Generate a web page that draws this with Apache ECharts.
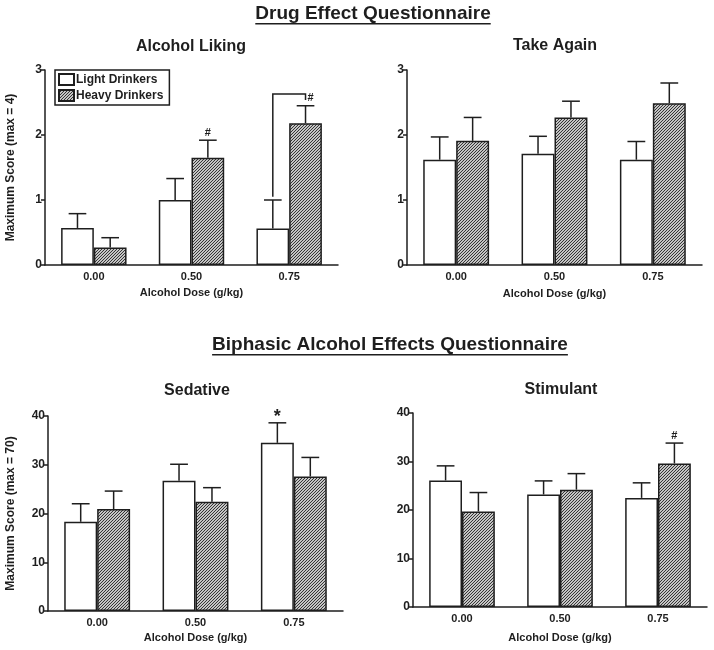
<!DOCTYPE html>
<html>
<head>
<meta charset="utf-8">
<script src="https://cdn.jsdelivr.net/npm/echarts@6/dist/echarts.min.js"></script>
<style>
html,body{margin:0;padding:0;background:#fff;}
#main{width:714px;height:650px;}
</style>
</head>
<body>
<div id="main"></div>
<script>
// ---------- DATA ----------
const categories = ['0.00', '0.50', '0.75'];
const groupNames = ['Light Drinkers', 'Heavy Drinkers'];

const panelTitles = ['Alcohol Liking', 'Take Again', 'Sedative', 'Stimulant'];
const sectionTitles = ['Drug Effect Questionnaire', 'Biphasic Alcohol Effects Questionnaire'];
const xAxisTitle = 'Alcohol Dose (g/kg)';
const yAxisTitles = ['Maximum Score (max = 4)', 'Maximum Score (max = 70)'];

// Alcohol Liking (max = 4)
const likingLight = [0.57, 1.00, 0.56];
const likingLightSem = [0.22, 0.33, 0.44];
const likingHeavy = [0.27, 1.65, 2.18];
const likingHeavySem = [0.15, 0.27, 0.27];

// Take Again
const againLight = [1.62, 1.71, 1.62];
const againLightSem = [0.35, 0.27, 0.28];
const againHeavy = [1.91, 2.27, 2.49];
const againHeavySem = [0.36, 0.25, 0.31];

// Sedative (max = 70)
const sedLight = [18.3, 26.7, 34.5];
const sedLightSem = [3.7, 3.4, 4.1];
const sedHeavy = [20.9, 22.4, 27.6];
const sedHeavySem = [3.7, 2.9, 3.9];

// Stimulant
const stimLight = [26.1, 23.2, 22.5];
const stimLightSem = [3.0, 2.8, 3.1];
const stimHeavy = [19.7, 24.2, 29.6];
const stimHeavySem = [3.9, 3.3, 4.2];

// significance markers above error bars: panel, category, group (0 light / 1 heavy), symbol
const sigPanel = [0, 2, 3];
const sigCategory = [1, 2, 2];
const sigGroup = [1, 0, 1];
const sigSymbol = ['#', '*', '#'];

// bracket in Alcohol Liking between light and heavy at 0.75
const bracketCategory = 2;
const bracketStart = 1.05;   // light side start value
const bracketTop = 2.63;     // horizontal level
const bracketEnd = 2.54;     // heavy side end value
const bracketSymbol = '#';

// ---------- STYLE ----------
const FONT = '"Liberation Sans", Arial, sans-serif';
const INK = '#1e1e1e';
const CAT_GAP = 0.33;

function makeHatch() {
  const s = 3;
  const c = document.createElement('canvas');
  c.width = s; c.height = s;
  const ctx = c.getContext('2d');
  ctx.fillStyle = '#ffffff';
  ctx.fillRect(0, 0, s, s);
  ctx.strokeStyle = '#2a2a2a';
  ctx.lineWidth = 1.05;
  ctx.beginPath();
  ctx.moveTo(-1, s + 1); ctx.lineTo(s + 1, -1);
  ctx.moveTo(-1, 1); ctx.lineTo(1, -1);
  ctx.moveTo(s - 1, s + 1); ctx.lineTo(s + 1, s - 1);
  ctx.stroke();
  return c;
}
const hatch = { image: makeHatch(), repeat: 'repeat' };

const panels = [
  { light: likingLight, lightSem: likingLightSem, heavy: likingHeavy, heavySem: likingHeavySem, max: 3, interval: 1,
    grid: { left: 45, top: 70, width: 293, height: 195 }, yName: yAxisTitles[0], yNameGap: 28, xNameGap: 22 },
  { light: againLight, lightSem: againLightSem, heavy: againHeavy, heavySem: againHeavySem, max: 3, interval: 1,
    grid: { left: 407, top: 70, width: 295, height: 195 }, yName: '', yNameGap: 0, xNameGap: 23 },
  { light: sedLight, lightSem: sedLightSem, heavy: sedHeavy, heavySem: sedHeavySem, max: 40, interval: 10,
    grid: { left: 48, top: 416, width: 295, height: 195 }, yName: yAxisTitles[1], yNameGap: 31, xNameGap: 21 },
  { light: stimLight, lightSem: stimLightSem, heavy: stimHeavy, heavySem: stimHeavySem, max: 40, interval: 10,
    grid: { left: 413, top: 413, width: 294, height: 194 }, yName: '', yNameGap: 0, xNameGap: 25 }
];

const subtitleCenters = [[191, 47], [555, 46], [197, 391], [561, 390]];
const sectionCenters = [[373, 14], [390, 345]];

function barHalfWidth(api) {
  const catW = api.size([1, 0])[0];
  return catW * (1 - CAT_GAP) / 2;
}

function errRender(sign) {
  return function (params, api) {
    const ci = api.value(0);
    const base = api.coord([ci, api.value(1)]);
    const hi = api.coord([ci, api.value(2)]);
    const bw = barHalfWidth(api);
    const x = base[0] + sign * bw / 2;
    const half = bw * 0.27;
    const st = { stroke: INK, lineWidth: 1.5 };
    return {
      type: 'group',
      children: [
        { type: 'line', shape: { x1: x, y1: base[1], x2: x, y2: hi[1] }, style: st },
        { type: 'line', shape: { x1: x - half, y1: hi[1], x2: x + half, y2: hi[1] }, style: st }
      ]
    };
  };
}

const grid = [], xAxis = [], yAxis = [], series = [];
panels.forEach((p, i) => {
  grid.push(Object.assign({ containLabel: false }, p.grid));
  xAxis.push({
    type: 'category', gridIndex: i, data: categories,
    name: xAxisTitle, nameLocation: 'middle', nameGap: p.xNameGap,
    nameTextStyle: { fontFamily: FONT, fontWeight: 'bold', fontSize: 11, color: INK },
    axisLine: { lineStyle: { color: INK, width: 1.5 } },
    axisTick: { show: false },
    axisLabel: { fontFamily: FONT, fontWeight: 'bold', fontSize: 11, color: INK, margin: 6 },
    splitLine: { show: false }
  });
  yAxis.push({
    type: 'value', gridIndex: i, min: 0, max: p.max, interval: p.interval,
    name: p.yName, nameLocation: 'middle', nameGap: p.yNameGap,
    nameTextStyle: { fontFamily: FONT, fontWeight: 'bold', fontSize: 12, color: INK },
    axisLine: { show: true, lineStyle: { color: INK, width: 1.5 } },
    axisTick: { show: true, length: 4, lineStyle: { color: INK, width: 1.5 } },
    axisLabel: { fontFamily: FONT, fontWeight: 'bold', fontSize: 12, color: INK, margin: 3 },
    splitLine: { show: false }
  });
  series.push({
    name: groupNames[0], type: 'bar', xAxisIndex: i, yAxisIndex: i, data: p.light,
    barGap: '0%', barCategoryGap: (CAT_GAP * 100) + '%',
    itemStyle: { color: '#ffffff', borderColor: INK, borderWidth: 1.5 },
    emphasis: { disabled: true }, animation: false
  });
  series.push({
    name: groupNames[1], type: 'bar', xAxisIndex: i, yAxisIndex: i, data: p.heavy,
    barGap: '0%', barCategoryGap: (CAT_GAP * 100) + '%',
    itemStyle: { color: hatch, borderColor: INK, borderWidth: 1.5 },
    emphasis: { disabled: true }, animation: false
  });
  series.push({
    name: 'err-light-' + i, type: 'custom', xAxisIndex: i, yAxisIndex: i, z: 5,
    renderItem: errRender(-1), animation: false, silent: true,
    data: categories.map((c, k) => [k, p.light[k], p.light[k] + p.lightSem[k]])
  });
  series.push({
    name: 'err-heavy-' + i, type: 'custom', xAxisIndex: i, yAxisIndex: i, z: 5,
    renderItem: errRender(1), animation: false, silent: true,
    data: categories.map((c, k) => [k, p.heavy[k], p.heavy[k] + p.heavySem[k]])
  });
});

// significance symbols above error bars
sigPanel.forEach((pi, s) => {
  const p = panels[pi];
  const k = sigCategory[s];
  const g = sigGroup[s];
  const topVal = g === 0 ? p.light[k] + p.lightSem[k] : p.heavy[k] + p.heavySem[k];
  const sym = sigSymbol[s];
  series.push({
    name: 'sig-' + s, type: 'custom', xAxisIndex: pi, yAxisIndex: pi, z: 6, animation: false, silent: true,
    data: [[k, topVal]],
    renderItem: function (params, api) {
      const c = api.coord([api.value(0), api.value(1)]);
      const bw = barHalfWidth(api);
      const x = c[0] + (g === 0 ? -1 : 1) * bw / 2;
      const big = sym === '*';
      return {
        type: 'text',
        style: {
          x: x, y: c[1] - (big ? -3 : 2), text: sym,
          font: 'bold ' + (big ? 18 : 11) + 'px ' + FONT,
          fill: INK, align: 'center', verticalAlign: 'bottom',
          textAlign: 'center', textVerticalAlign: 'bottom'
        }
      };
    }
  });
});

// bracket
series.push({
  name: 'bracket', type: 'custom', xAxisIndex: 0, yAxisIndex: 0, z: 6, animation: false, silent: true,
  data: [[bracketCategory, bracketStart, bracketTop, bracketEnd]],
  renderItem: function (params, api) {
    const k = api.value(0);
    const bw = barHalfWidth(api);
    const c0 = api.coord([k, api.value(1)]);
    const cTop = api.coord([k, api.value(2)]);
    const cEnd = api.coord([k, api.value(3)]);
    const xl = c0[0] - bw / 2, xr = c0[0] + bw / 2;
    return {
      type: 'group',
      children: [
        { type: 'polyline', shape: { points: [[xl, c0[1]], [xl, cTop[1]], [xr, cTop[1]], [xr, cEnd[1]]] },
          style: { stroke: INK, lineWidth: 1.5, fill: null } },
        { type: 'text', style: { x: xr + 2, y: cTop[1] + 4, text: bracketSymbol, font: 'bold 11px ' + FONT, fill: INK,
            align: 'left', verticalAlign: 'middle', textAlign: 'left', textVerticalAlign: 'middle' } }
      ]
    };
  }
});

// titles as graphic text
function measure(text, font) {
  const c = document.createElement('canvas').getContext('2d');
  c.font = font;
  return c.measureText(text).width;
}
const graphic = [];
const sectionFont = 'bold 19px ' + FONT;
sectionTitles.forEach((t, i) => {
  const [cx, cy] = sectionCenters[i];
  const w = measure(t, sectionFont);
  graphic.push({ type: 'text', x: cx, y: cy, style: { text: t, font: sectionFont, fill: INK,
    align: 'center', verticalAlign: 'middle', textAlign: 'center', textVerticalAlign: 'middle' } });
  graphic.push({ type: 'rect', shape: { x: cx - w / 2, y: cy + 9, width: w, height: 1.5 }, style: { fill: INK } });
});
const subFont = 'bold 16px ' + FONT;
panelTitles.forEach((t, i) => {
  const [cx, cy] = subtitleCenters[i];
  graphic.push({ type: 'text', x: cx, y: cy, style: { text: t, font: subFont, fill: INK,
    align: 'center', verticalAlign: 'middle', textAlign: 'center', textVerticalAlign: 'middle' } });
});

const chart = echarts.init(document.getElementById('main'), null, { renderer: 'canvas' });
chart.setOption({
  backgroundColor: '#ffffff',
  animation: false,
  grid: grid,
  xAxis: xAxis,
  yAxis: yAxis,
  series: series,
  graphic: graphic,
  legend: {
    data: groupNames.map(n => ({ name: n, icon: 'rect' })),
    orient: 'vertical',
    left: 55, top: 70,
    padding: [3, 6, 3, 3],
    itemGap: 3,
    itemWidth: 15, itemHeight: 11,
    borderColor: INK, borderWidth: 1.5,
    selectedMode: false,
    textStyle: { fontFamily: FONT, fontWeight: 'bold', fontSize: 12, color: INK, padding: [0, 0, 0, -3] }
  }
});
</script>
</body>
</html>
